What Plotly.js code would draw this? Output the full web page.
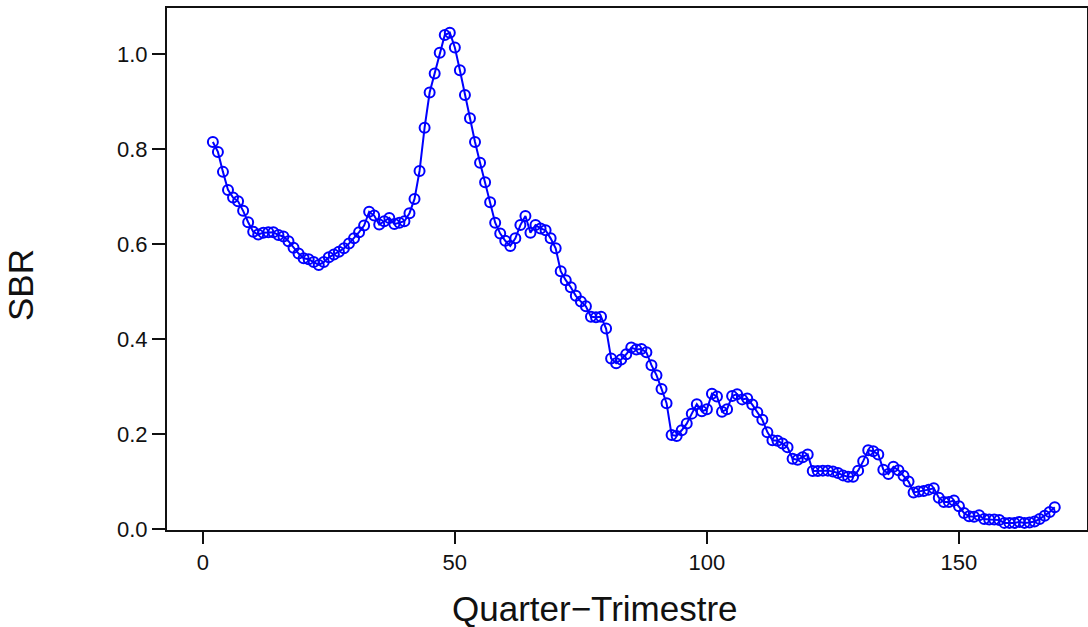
<!DOCTYPE html>
<html>
<head>
<meta charset="utf-8">
<script src="https://cdn.plot.ly/plotly-3.0.1.min.js"></script>
<style>html,body{margin:0;padding:0;background:#fff}#chart{width:1088px;height:627px}</style>
</head>
<body>
<div id="chart"></div>
<script>
// Quarter index (x) and SBR values (y)
const quarterStart = 2;
const sbr = [
  0.815, 0.794, 0.752, 0.714, 0.698, 0.690, 0.670, 0.646, 0.626, 0.620,   // 2-11
  0.624, 0.625, 0.625, 0.619, 0.616, 0.606, 0.592, 0.580, 0.570, 0.568,   // 12-21
  0.562, 0.556, 0.562, 0.572, 0.578, 0.584, 0.591, 0.601, 0.612, 0.625,   // 22-31
  0.639, 0.668, 0.660, 0.641, 0.648, 0.655, 0.642, 0.645, 0.648, 0.665,   // 32-41
  0.695, 0.754, 0.845, 0.919, 0.959, 1.003, 1.040, 1.045, 1.014, 0.966,   // 42-51
  0.914, 0.865, 0.815, 0.771, 0.730, 0.688, 0.645, 0.622, 0.607, 0.596,   // 52-61
  0.612, 0.640, 0.659, 0.624, 0.640, 0.633, 0.629, 0.612, 0.591, 0.543,   // 62-71
  0.524, 0.509, 0.491, 0.479, 0.469, 0.447, 0.446, 0.447, 0.422, 0.359,   // 72-81
  0.349, 0.357, 0.368, 0.382, 0.378, 0.379, 0.372, 0.345, 0.324, 0.295,   // 82-91
  0.265, 0.198, 0.196, 0.208, 0.222, 0.243, 0.263, 0.248, 0.252, 0.285,   // 92-101
  0.279, 0.247, 0.252, 0.280, 0.284, 0.273, 0.275, 0.262, 0.246, 0.230,   // 102-111
  0.204, 0.187, 0.186, 0.180, 0.172, 0.148, 0.146, 0.151, 0.157, 0.122,   // 112-121
  0.122, 0.123, 0.123, 0.121, 0.118, 0.113, 0.110, 0.110, 0.123, 0.143,   // 122-131
  0.166, 0.164, 0.157, 0.125, 0.116, 0.131, 0.124, 0.112, 0.100, 0.077,   // 132-141
  0.079, 0.080, 0.083, 0.086, 0.066, 0.057, 0.057, 0.060, 0.048, 0.034,   // 142-151
  0.027, 0.026, 0.029, 0.021, 0.020, 0.020, 0.019, 0.013, 0.013, 0.013,   // 152-161
  0.015, 0.013, 0.014, 0.016, 0.021, 0.028, 0.036, 0.046                  // 162-169
];
const quarters = sbr.map((_, i) => quarterStart + i);

const xTickVals = [0, 50, 100, 150];
const xTickText = ['0', '50', '100', '150'];
const yTickVals = [0, 0.2, 0.4, 0.6, 0.8, 1.0];
const yTickText = ['0.0', '0.2', '0.4', '0.6', '0.8', '1.0'];

const xLabel = 'Quarter\u2212Trimestre';
const yLabel = 'SBR';

const trace = {
  x: quarters,
  y: sbr,
  type: 'scatter',
  mode: 'lines+markers',
  line: {color: '#0000FF', width: 2},
  marker: {symbol: 'circle-open', size: 10, color: '#0000FF', line: {width: 2, color: '#0000FF'}},
  hoverinfo: 'x+y'
};

const font = 'Liberation Sans, Arial, sans-serif';
const layout = {
  width: 1088,
  height: 627,
  margin: {l: 167, r: 1, t: 8, b: 97, pad: 0},
  paper_bgcolor: '#ffffff',
  plot_bgcolor: '#ffffff',
  showlegend: false,
  font: {family: font, color: '#000000'},
  xaxis: {
    range: [-7.1, 175.4],
    tickmode: 'array', tickvals: xTickVals, ticktext: xTickText,
    ticks: 'outside', ticklen: 12, tickwidth: 2, tickcolor: '#111',
    showline: true, linecolor: '#111', linewidth: 2, mirror: true,
    showgrid: false, zeroline: false,
    tickfont: {family: font, size: 22, color: '#111'}
  },
  yaxis: {
    range: [-0.002, 1.097],
    tickmode: 'array', tickvals: yTickVals, ticktext: yTickText,
    ticks: 'outside', ticklen: 13, tickwidth: 2, tickcolor: '#111',
    showline: true, linecolor: '#111', linewidth: 2, mirror: true,
    showgrid: false, zeroline: false,
    tickfont: {family: font, size: 22, color: '#111'}
  },
  annotations: [
    {text: xLabel, xref: 'paper', yref: 'paper', x: 0.4652, y: -0.1505,
     xanchor: 'center', yanchor: 'middle', showarrow: false,
     font: {family: font, size: 35, color: '#111'}},
    {text: yLabel, xref: 'paper', yref: 'paper', x: -0.1598, y: 0.4693,
     xanchor: 'center', yanchor: 'middle', showarrow: false, textangle: -90,
     font: {family: font, size: 35, color: '#111'}}
  ]
};

Plotly.newPlot('chart', [trace], layout, {displayModeBar: false, staticPlot: true});
</script>
</body>
</html>
